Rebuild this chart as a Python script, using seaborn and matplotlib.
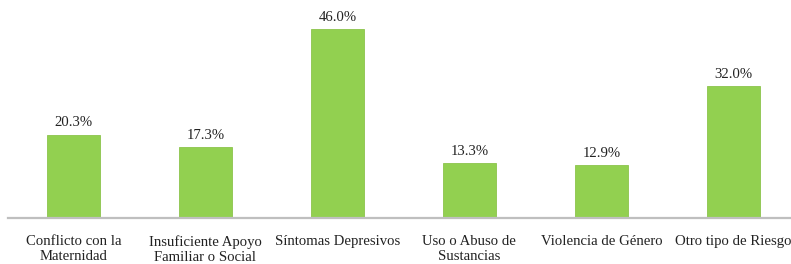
import matplotlib
matplotlib.use("Agg")
import matplotlib.pyplot as plt
import seaborn as sns
import pandas as pd

categories = ["Conflicto con la\nMaternidad", "Insuficiente Apoyo\nFamiliar o Social",
              "Síntomas Depresivos", "Uso o Abuso de\nSustancias",
              "Violencia de Género", "Otro tipo de Riesgo"]
values = [20.3, 17.3, 46.0, 13.3, 12.9, 32.0]
labels = ["20.3%", "17.3%", "46.0%", "13.3%", "12.9%", "32.0%"]

sns.set_style("white")
plt.rcParams['font.family'] = ['Liberation Serif', 'DejaVu Serif']

fig = plt.figure(figsize=(7.91, 2.64), dpi=100)
ax = fig.add_axes([0.0095, 0.1742, 1.001, 0.7785])
df = pd.DataFrame({"cat": categories, "val": values})
sns.barplot(data=df, x="cat", y="val", color="#92D050", width=0.4,
            saturation=1, edgecolor="#8CC44C", linewidth=0.6, ax=ax)
ax.set_ylim(0, 50)
ax.set_xlim(-0.5, 5.5)
for i, (v, t) in enumerate(zip(values, labels)):
    ax.text(i, v + 1.3, t, ha="center", va="bottom", fontsize=10.6, color="#222222")
for s in ["top", "left", "right"]:
    ax.spines[s].set_visible(False)
ax.spines["bottom"].set_color("#BFBFBF")
ax.spines["bottom"].set_linewidth(1.6)
ax.set_yticks([])
ax.set_xlabel("")
ax.set_ylabel("")
ax.tick_params(axis="x", length=0, pad=12.5, labelsize=10.6, labelcolor="#222222")
for lab in ax.get_xticklabels():
    lab.set_linespacing(1.15)
fig.savefig("out.png", dpi=100)
